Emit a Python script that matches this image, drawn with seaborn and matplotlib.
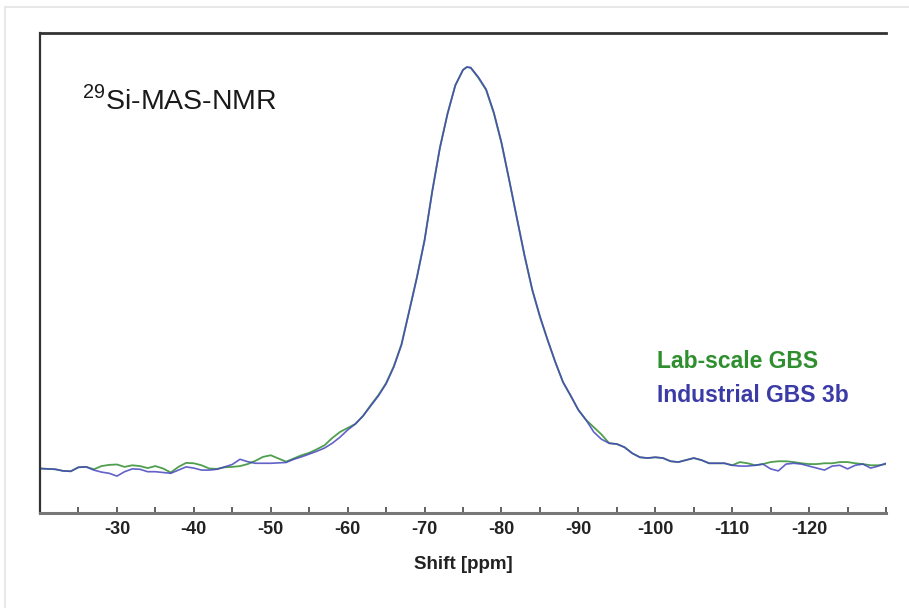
import matplotlib
matplotlib.use("Agg")
import matplotlib.pyplot as plt
import seaborn as sns
import pandas as pd
from matplotlib.lines import Line2D
from matplotlib.ticker import MultipleLocator

# ---- data (chemical shift in ppm, intensity in arbitrary units) ----
shift_ppm = ([-20 - i for i in range(56)] + [-75.5] + [-76 - i for i in range(55)])

lab_scale = [
    -0.1, -0.2, -0.3, -0.7, -0.8, 0.2, 0.3, -0.3, 0.5, 0.8,
    0.9, 0.3, 0.7, 0.5, 0.0, 0.5, -0.1, -1.1, 0.3, 1.3,
    1.2, 0.7, -0.1, -0.2, 0.2, 0.3, 0.5, 1.0, 1.8, 2.8,
    3.2, 2.4, 1.6, 2.4, 3.2, 3.8, 4.7, 5.7, 7.5, 9.0,
    10.0,
    11.0, 13.0, 15.7, 18.2, 21.2, 25.4, 30.9, 39.2, 47.6, 56.9,
    69.1, 80.0, 88.5, 95.5, 99.3,
    100.0,
    99.8, 97.3, 94.3, 88.5, 81.0, 71.8, 62.3, 52.9, 44.4, 37.7,
    31.9, 26.4, 21.4, 18.0, 14.5, 12.0,
    10.2, 8.4,
    6.2, 6.0, 5.2, 3.7, 2.7, 2.5, 2.7, 2.5, 1.7, 1.5,
    2.0, 2.5, 2.0, 1.2, 1.2, 1.2, 0.7,
    1.5, 1.2, 0.7, 1.0, 1.5, 1.7, 1.7, 1.5, 1.2, 1.0,
    1.0, 1.2, 1.2, 1.5, 1.5, 1.2, 1.0, 0.7, 0.7, 1.0,
]

industrial = [
    -0.1, -0.2, -0.3, -0.7, -0.8, 0.2, 0.3, -0.5, -1.0, -1.3,
    -2.0, -0.9, -0.2, -0.3, -0.9, -0.9, -1.1, -1.3, -0.5, 0.3,
    0.0, -0.5, -0.5, -0.3, 0.3, 0.9, 2.2, 1.6, 1.2, 1.2,
    1.2, 1.3, 1.4, 2.2, 2.8, 3.5, 4.2, 5.0, 6.2, 7.7,
    9.5,
    11.0, 13.0, 15.5, 18.0, 21.0, 25.2, 30.7, 39.0, 47.4, 56.7,
    68.9, 79.8, 88.4, 95.4, 99.3,
    100.0,
    99.9, 97.5, 94.5, 88.8, 81.3, 72.0, 62.5, 53.1, 44.6, 37.9,
    32.0, 26.5, 21.5, 18.1, 14.5, 12.0,
    9.0, 7.2,
    6.2, 6.0, 5.2, 3.7, 2.7, 2.5, 2.7, 2.5, 1.7, 1.5,
    2.0, 2.5, 2.0, 1.2, 1.2, 1.2, 0.7,
    0.5, 0.5, 0.7, 1.0, -0.2, -0.7, 1.0, 1.2, 1.0, 0.5,
    0.0, -0.5, 0.5, 0.7, -0.2, 0.7, 1.0, 0.0, 0.5, 1.2,
]

major_ticks = [-30, -40, -50, -60, -70, -80, -90, -100, -110, -120]
tick_labels = ["-30", "-40", "-50", "-60", "-70", "-80", "-90", "-100", "-110", "-120"]

series_names = ["Lab-scale GBS", "Industrial GBS 3b"]
line_colors = ["#4f9f4f", "#4646bf"]
text_colors = ["#2f8f2f", "#3b3ba8"]

sns.set_theme(style="white")
plt.rcParams["font.family"] = ["Liberation Sans", "DejaVu Sans"]
plt.rcParams["mathtext.fontset"] = "custom"
plt.rcParams["mathtext.rm"] = "Liberation Sans"

fig = plt.figure(figsize=(9.09, 6.08), dpi=100)
ax = fig.add_axes([40 / 909, 1 - 513 / 608, 846 / 909, 480 / 608])

df_lab = pd.DataFrame({"shift": shift_ppm, "intensity": lab_scale})
df_ind = pd.DataFrame({"shift": shift_ppm, "intensity": industrial})
sns.lineplot(data=df_lab, x="shift", y="intensity", ax=ax, color=line_colors[0],
             linewidth=1.3, sort=False, estimator=None)
sns.lineplot(data=df_ind, x="shift", y="intensity", ax=ax, color=line_colors[1],
             linewidth=1.2, sort=False, estimator=None, alpha=0.85)

ax.set_xlim(-20, -130)
ax.set_ylim(-11.2, 108.5)

ax.set_xticks(major_ticks)
ax.set_xticklabels(tick_labels, fontweight="bold", fontsize=13, color="#222222")
ax.xaxis.set_minor_locator(MultipleLocator(5))
ax.tick_params(axis="x", which="both", direction="in", length=4.5, width=1.3,
               color="#555555", pad=6, bottom=True)
ax.set_yticks([])
ax.set_ylabel("")
ax.set_xlabel("Shift [ppm]", fontweight="bold", fontsize=13.5, color="#222222", labelpad=13)

ax.spines["right"].set_visible(False)
for side in ["left", "top", "bottom"]:
    ax.spines[side].set_visible(True)
ax.spines["left"].set_color("#333333")
ax.spines["left"].set_linewidth(1.6)
ax.spines["top"].set_color("#333333")
ax.spines["top"].set_linewidth(2.0)
ax.spines["bottom"].set_color("#777777")
ax.spines["bottom"].set_linewidth(2.2)

ax.text(82 / 909, 1 - 100 / 608, r"$^{\mathregular{29}}$Si-MAS-NMR", transform=fig.transFigure,
        fontsize=20.5, color="#1a1a1a", va="center", ha="left")

fig.text(657 / 909, 1 - 362 / 608, series_names[0], fontsize=16.5, fontweight="bold",
         color=text_colors[0], va="center", ha="left")
fig.text(657 / 909, 1 - 395 / 608, series_names[1], fontsize=16.5, fontweight="bold",
         color=text_colors[1], va="center", ha="left")

# light page frame (top and left)
fig.add_artist(Line2D([5 / 909, 1], [1 - 7 / 608, 1 - 7 / 608], transform=fig.transFigure,
                      color="#e4e4e4", linewidth=1.2))
fig.add_artist(Line2D([5 / 909, 5 / 909], [0, 1 - 7 / 608], transform=fig.transFigure,
                      color="#e4e4e4", linewidth=1.2))

fig.savefig("out.png", dpi=100)
